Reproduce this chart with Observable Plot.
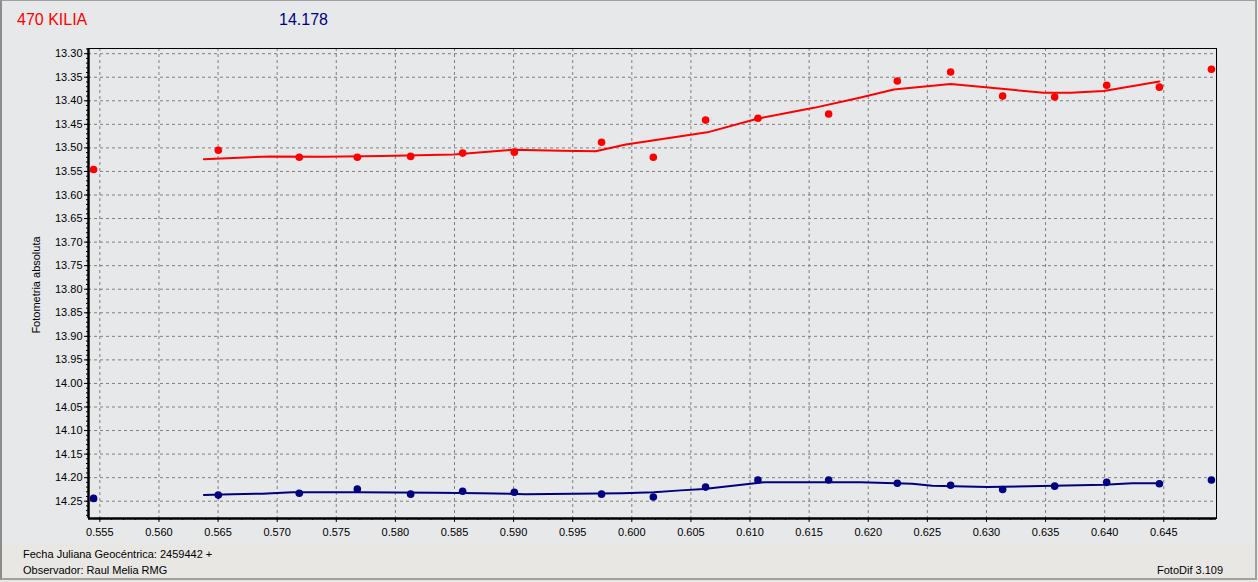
<!DOCTYPE html>
<html><head><meta charset="utf-8">
<script src="https://cdn.jsdelivr.net/npm/d3@7"></script>
<script src="https://cdn.jsdelivr.net/npm/@observablehq/plot@0.6"></script>
<style>
body{margin:0;background:#e7e8ea;}
#wrap{position:relative;width:1258px;height:582px;overflow:hidden;background:#e7e8ea;font-family:"Liberation Sans",Arial,sans-serif;}
#lower{position:absolute;left:0;top:543px;width:1258px;height:39px;background:#e9e7e4;}
#chart{position:absolute;left:0;top:0;}
#border{position:absolute;left:0;top:0;width:1253px;height:577px;border-top:1px solid #a0a0a0;border-left:2px solid #8c8c8c;border-right:2px solid #a0a0a0;border-bottom:2px solid #a0a0a0;pointer-events:none;}
.t{position:absolute;white-space:nowrap;font-size:11px;line-height:11px;color:#000;}
.big{font-size:16px;line-height:16px;}
</style></head>
<body>
<div id="wrap">
  <div id="lower"></div>
  <div id="chart"></div>
  <div class="t big" style="left:17px;top:11.5px;color:#ff0000;">470 KILIA</div>
  <div class="t big" style="left:279px;top:11.5px;color:#000080;">14.178</div>
  <div class="t" style="left:36px;top:285px;transform:translate(-50%,-50%) rotate(-90deg);">Fotometria absoluta</div>
  <div class="t" style="left:23px;top:549px;">Fecha Juliana Geocéntrica: 2459442 +</div>
  <div class="t" style="left:23px;top:565px;">Observador: Raul Melia RMG</div>
  <div class="t" style="left:1157px;top:565px;">FotoDif 3.109</div>
  <div id="border"></div>
</div>
<script>
// Tick labels
const xTicks = [0.555,0.560,0.565,0.570,0.575,0.580,0.585,0.590,0.595,0.600,0.605,0.610,0.615,0.620,0.625,0.630,0.635,0.640,0.645];
const yTicks = [13.30,13.35,13.40,13.45,13.50,13.55,13.60,13.65,13.70,13.75,13.80,13.85,13.90,13.95,14.00,14.05,14.10,14.15,14.20,14.25];

// Observations (fraction of JD after 2459442)
const jd = [0.55447,0.56502,0.57187,0.57678,0.58129,0.58569,0.59006,0.59744,0.60182,0.60624,0.61067,0.61665,0.62246,0.62697,0.63137,0.63577,0.64017,0.64463,0.64903];
const targetMag = [13.546,13.505,13.520,13.520,13.518,13.511,13.509,13.488,13.520,13.441,13.437,13.428,13.358,13.339,13.390,13.392,13.367,13.371,13.333];
const compMag = [14.244,14.237,14.233,14.224,14.235,14.229,14.231,14.235,14.241,14.220,14.205,14.205,14.212,14.216,14.225,14.218,14.210,14.213,14.205];

// Smoothed curves
const targetFitJd = [0.5638,0.56944,0.57393,0.57889,0.58492,0.5900,0.59398,0.59694,0.5995,0.60639,0.61062,0.61541,0.61936,0.62217,0.62697,0.63061,0.63484,0.63712,0.63992,0.64463];
const targetFitMag = [13.524,13.518,13.519,13.517,13.514,13.504,13.506,13.507,13.493,13.467,13.438,13.415,13.393,13.376,13.3645,13.373,13.383,13.383,13.379,13.359];
const compFitJd = [0.5638,0.5662,0.56874,0.57128,0.57678,0.5834,0.58721,0.59102,0.5992,0.60187,0.60413,0.6061,0.61005,0.61118,0.61936,0.62373,0.62542,0.63008,0.6336,0.63994,0.64234,0.64463];
const compFitMag = [14.237,14.235,14.234,14.231,14.231,14.232,14.233,14.235,14.233,14.231,14.227,14.224,14.213,14.210,14.210,14.213,14.217,14.220,14.218,14.215,14.212,14.212];

const xDomain = [0.55404, 0.64946];
const yDomain = [13.289, 14.2867];
const xMinor = d3.range(0.554, 0.6495, 0.001).map(v => +v.toFixed(3)).filter(v => v >= xDomain[0] && v <= xDomain[1]);
const yMinor = d3.range(13.29, 14.287, 0.01).map(v => +v.toFixed(2)).filter(v => v >= yDomain[0] && v <= yDomain[1]);

const obs = jd.map((x, i) => ({x, t: targetMag[i], c: compMag[i]}));
const tFit = targetFitJd.map((x, i) => ({x, y: targetFitMag[i]}));
const cFit = compFitJd.map((x, i) => ({x, y: compFitMag[i]}));

const gridStyle = {stroke: "#7f7f7f", strokeOpacity: 1, strokeDasharray: "3,3", strokeWidth: 1};

const chart = Plot.plot({
  width: 1258, height: 582,
  marginLeft: 88, marginRight: 42, marginTop: 48, marginBottom: 64,
  style: {background: "transparent", fontFamily: "'Liberation Sans', Arial, sans-serif", fontSize: "11px", color: "black"},
  x: {domain: xDomain},
  y: {domain: yDomain, reverse: true},
  marks: [
    Plot.gridX(xTicks, gridStyle),
    Plot.gridY(yTicks, gridStyle),
    Plot.axisX(xMinor, {tickSize: 2, tickFormat: () => "", label: null}),
    Plot.axisY(yMinor, {tickSize: 2, tickFormat: () => "", label: null}),
    Plot.axisX(xTicks, {tickSize: 4, tickPadding: 6, tickFormat: d => d.toFixed(3), label: null, fontSize: 11}),
    Plot.axisY(yTicks, {tickSize: 4, tickPadding: 2, tickFormat: d => d.toFixed(2), label: null, fontSize: 11}),
    Plot.frame({stroke: "black", strokeWidth: 1}),
    Plot.ruleX([xDomain[0]], {stroke: "black", strokeWidth: 2.5}),
    Plot.ruleY([yDomain[1]], {stroke: "black", strokeWidth: 2.5}),
    Plot.line(tFit, {x: "x", y: "y", stroke: "#ff0000", strokeWidth: 2}),
    Plot.line(cFit, {x: "x", y: "y", stroke: "#000080", strokeWidth: 2}),
    Plot.dot(obs, {x: "x", y: "t", r: 3.8, fill: "#ff0000", stroke: null}),
    Plot.dot(obs, {x: "x", y: "c", r: 3.8, fill: "#000080", stroke: null})
  ]
});
document.getElementById("chart").appendChild(chart);
</script>
</body></html>
